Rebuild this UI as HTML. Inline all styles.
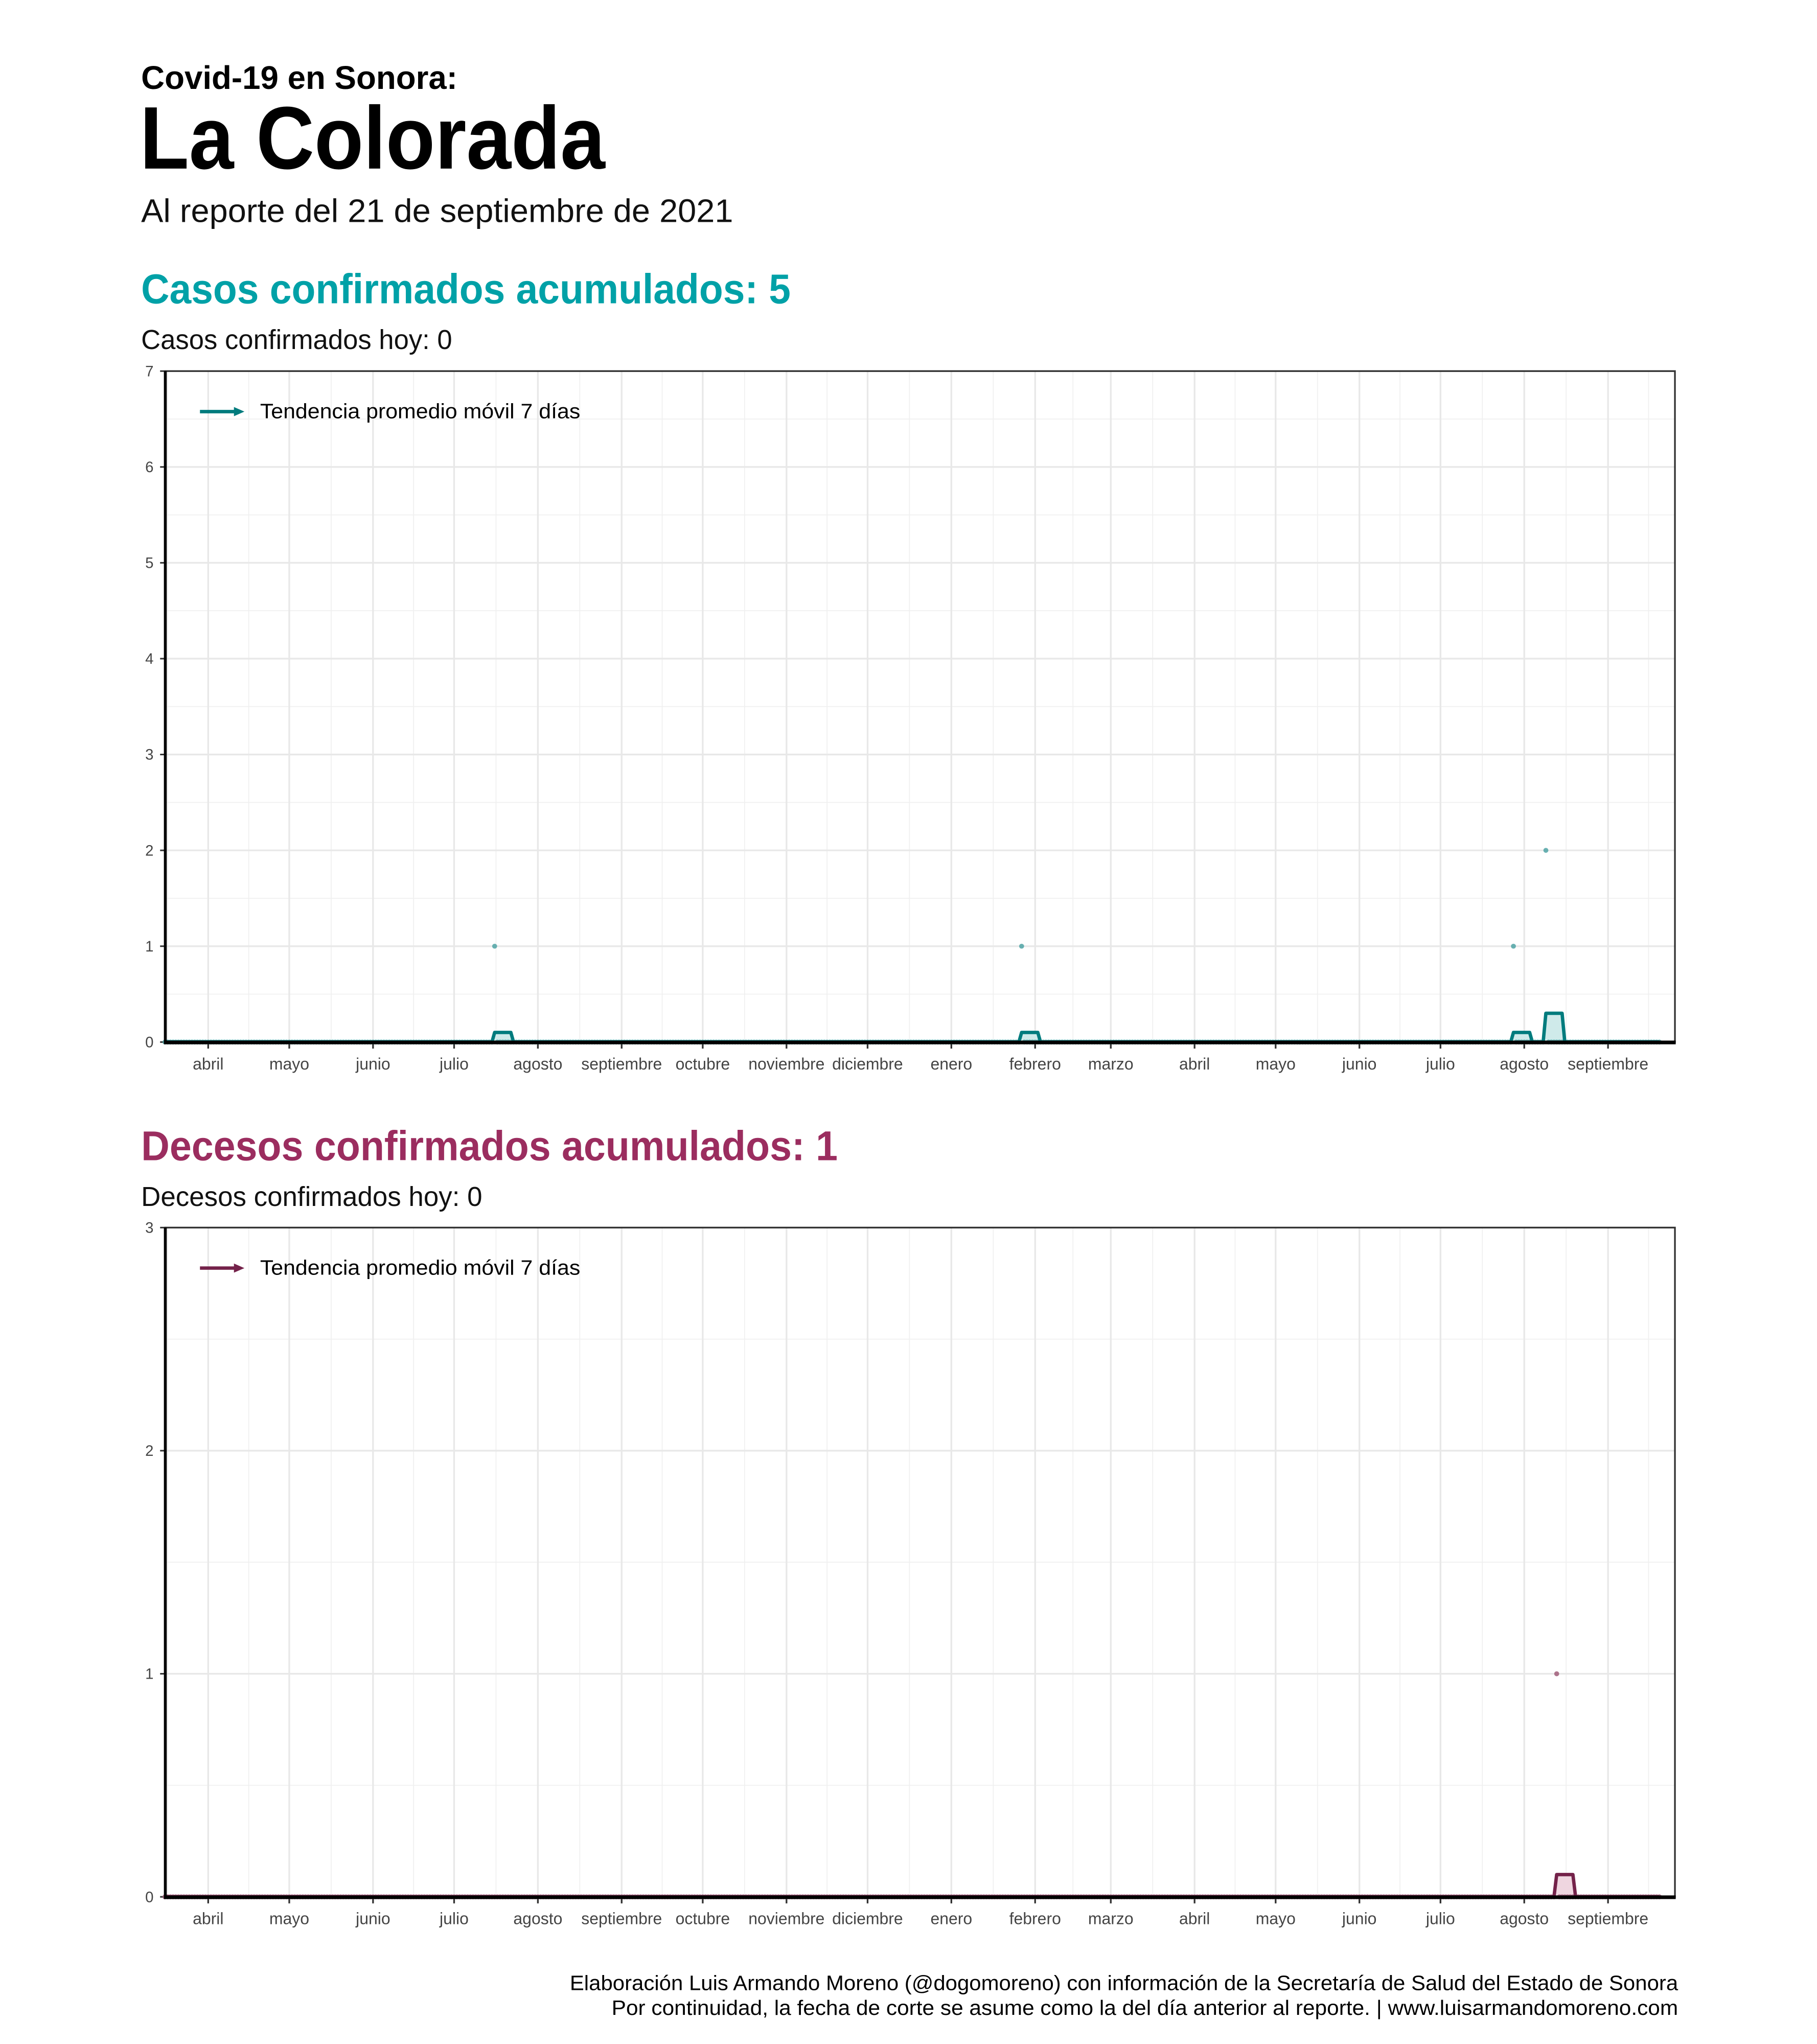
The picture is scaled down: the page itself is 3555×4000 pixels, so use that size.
<!DOCTYPE html>
<html><head><meta charset="utf-8">
<style>
html,body{margin:0;padding:0;background:#fff;}
svg{display:block;}
text{font-family:"Liberation Sans",sans-serif;}
</style></head>
<body>
<svg id="root" xmlns="http://www.w3.org/2000/svg" width="3555" height="4000" viewBox="0 0 1390.3 1564.3">
<rect width="1390.3" height="1564.3" fill="#fff"/>
<text x="108" y="68" font-size="25" font-weight="bold" fill="#000" textLength="242" lengthAdjust="spacingAndGlyphs">Covid-19 en Sonora:</text>
<text x="107" y="129" font-size="68" font-weight="bold" fill="#000" textLength="356" lengthAdjust="spacingAndGlyphs">La Colorada</text>
<text x="108" y="170" font-size="25" fill="#111" textLength="453" lengthAdjust="spacingAndGlyphs">Al reporte del 21 de septiembre de 2021</text>
<text x="108" y="232" font-size="32" font-weight="bold" fill="#00a1a7" textLength="497" lengthAdjust="spacingAndGlyphs">Casos confirmados acumulados: 5</text>
<text x="108" y="267" font-size="21" fill="#111" textLength="238" lengthAdjust="spacingAndGlyphs">Casos confirmados hoy: 0</text>
<text x="108" y="888" font-size="32" font-weight="bold" fill="#9b2d5f" textLength="533" lengthAdjust="spacingAndGlyphs">Decesos confirmados acumulados: 1</text>
<text x="108" y="923" font-size="21" fill="#111" textLength="261" lengthAdjust="spacingAndGlyphs">Decesos confirmados hoy: 0</text>
<text x="1284" y="1523" font-size="16" fill="#000" text-anchor="end" textLength="848" lengthAdjust="spacingAndGlyphs">Elaboración Luis Armando Moreno (@dogomoreno) con información de la Secretaría de Salud del Estado de Sonora</text>
<text x="1284" y="1542" font-size="16" fill="#000" text-anchor="end" textLength="816" lengthAdjust="spacingAndGlyphs">Por continuidad, la fecha de corte se asume como la del día anterior al reporte. | www.luisarmandomoreno.com</text>
<g id="chart1"></g>
<g id="chart2"></g>
</svg>
<script>
const monthLabels = ["abril","mayo","junio","julio","agosto","septiembre","octubre","noviembre","diciembre","enero","febrero","marzo","abril","mayo","junio","julio","agosto","septiembre"];
const monthDates = ["2020-04-01","2020-05-01","2020-06-01","2020-07-01","2020-08-01","2020-09-01","2020-10-01","2020-11-01","2020-12-01","2021-01-01","2021-02-01","2021-03-01","2021-04-01","2021-05-01","2021-06-01","2021-07-01","2021-08-01","2021-09-01"];
const seriesStart = "2020-03-16";
const seriesEnd = "2021-09-20";
const caseDates = ["2020-07-16","2021-01-27","2021-07-28","2021-08-09"];
const caseValues = [1,1,1,2];
const deathDates = ["2021-08-13"];
const deathValues = [1];
const casesTicks = [0,1,2,3,4,5,6,7];
const deathsTicks = [0,1,2,3];

const NS = "http://www.w3.org/2000/svg";
const DAY = 86400000;
const ORIGIN = Date.parse("2020-04-01");
function dayIdx(d){ return Math.round((Date.parse(d) - ORIGIN)/DAY); }
const X0 = 159.3, PXD = (1230.4-159.3)/dayIdx("2021-09-01");
function xScale(d){ return X0 + d*PXD; }
const LEFT = 126.5, RIGHT = 1281.6;

function mk(tag, attrs, parent){
  const el = document.createElementNS(NS, tag);
  for (const k in attrs) el.setAttribute(k, attrs[k]);
  parent.appendChild(el);
  return el;
}

function drawChart(g, top, bottom, ymax, ticks, dates, values, cLine, cFill, cPt, prefix){
  const yScale = v => bottom - v*(bottom-top)/ymax;
  for (let i=0;i<ymax;i++){
    const l = mk("line",{x1:LEFT,x2:RIGHT,y1:yScale(i+0.5),y2:yScale(i+0.5),stroke:"#f0f0f0","stroke-width":0.7},g);
    
    
  }
  const md = monthDates.map(dayIdx);
  const mids = [];
  mids.push(md[0] - (md[1]-md[0])/2);
  for (let i=0;i<md.length-1;i++) mids.push((md[i]+md[i+1])/2);
  mids.push(md[md.length-1] + 15);
  mids.forEach(m => {
    const x = xScale(m);
    if (x<=LEFT || x>=RIGHT) return;
    const l = mk("line",{x1:x,x2:x,y1:top,y2:bottom,stroke:"#f0f0f0","stroke-width":0.7},g);
    
    
  });
  ticks.forEach(t => {
    const l = mk("line",{x1:LEFT,x2:RIGHT,y1:yScale(t),y2:yScale(t),stroke:"#e8e8e8","stroke-width":1.3},g);
    
    
    const tk = mk("line",{x1:LEFT-4,x2:LEFT,y1:yScale(t),y2:yScale(t),stroke:"#333","stroke-width":1.2},g);
    
    
    const tx = mk("text",{x:LEFT-9,y:yScale(t)+4,"font-size":11.5,fill:"#444","text-anchor":"end"},g);
    tx.textContent = t;
    
    
  });
  monthDates.forEach((d,i) => {
    const x = xScale(dayIdx(d));
    const l = mk("line",{x1:x,x2:x,y1:top,y2:bottom,stroke:"#e8e8e8","stroke-width":1.3},g);
    
    
    const tk = mk("line",{x1:x,x2:x,y1:bottom,y2:bottom+5,stroke:"#333","stroke-width":1.3},g);
    
    
    const tx = mk("text",{x:x,y:bottom+21,"font-size":12.5,fill:"#444","text-anchor":"middle"},g);
    tx.textContent = monthLabels[i];
    
    
  });
  const s = dayIdx(seriesStart), e = dayIdx(seriesEnd);
  const daily = [];
  for (let d=s; d<=e; d++) daily.push(0);
  dates.forEach((d,i) => { daily[dayIdx(d)-s] += values[i]; });
  const ma = daily.map((v,i) => { let sum=0; for (let k=Math.max(0,i-6);k<=i;k++) sum+=daily[k]; return Math.round(sum/7*10)/10; });
  let pts = ma.map((v,i) => xScale(s+i).toFixed(2)+","+yScale(v).toFixed(2));
  const area = mk("path",{d:"M"+xScale(s)+","+bottom+" L"+pts.join(" L")+" L"+xScale(e)+","+bottom+" Z",fill:cFill,stroke:"none"},g);
  
  
  daily.forEach((v,i) => {
    const c = mk("circle",{cx:xScale(s+i),cy:yScale(v),r:1.9,fill:cPt,opacity:0.85},g);
    
    
  });
  const line = mk("polyline",{points:pts.join(" "),fill:"none",stroke:cLine,"stroke-width":2.6,"stroke-linejoin":"round"},g);
  
  
  const b = mk("rect",{x:LEFT,y:top,width:RIGHT-LEFT,height:bottom-top,fill:"none",stroke:"#333","stroke-width":1.3},g);
  
  
  const ax = mk("line",{x1:LEFT,x2:LEFT,y1:top,y2:bottom+1.4,stroke:"#000","stroke-width":2.2},g);
  
  
  const ab = mk("line",{x1:LEFT-1,x2:RIGHT+0.6,y1:bottom+0.3,y2:bottom+0.3,stroke:"#000","stroke-width":2.8},g);
  
  
  const ly = top+31;
  const ll = mk("line",{x1:153,x2:181,y1:ly,y2:ly,stroke:cLine,"stroke-width":2.6},g);
  
  
  const la = mk("path",{d:"M179,"+(ly-3.5)+" L187,"+ly+" L179,"+(ly+3.5)+" Z",fill:cLine},g);
  
  
  const lt = mk("text",{x:199,y:ly+5,"font-size":16,fill:"#000",textLength:245,lengthAdjust:"spacingAndGlyphs"},g);
  lt.textContent = "Tendencia promedio móvil 7 días";
  
  
}

drawChart(document.getElementById("chart1"), 284, 797.5, 7, casesTicks, caseDates, caseValues, "#007b7d", "#cfeaea", "#4fa3a5", "cases");
drawChart(document.getElementById("chart2"), 939.5, 1451.7, 3, deathsTicks, deathDates, deathValues, "#74224a", "#efd6e0", "#a05d79", "deaths");
</script>
</body></html>
